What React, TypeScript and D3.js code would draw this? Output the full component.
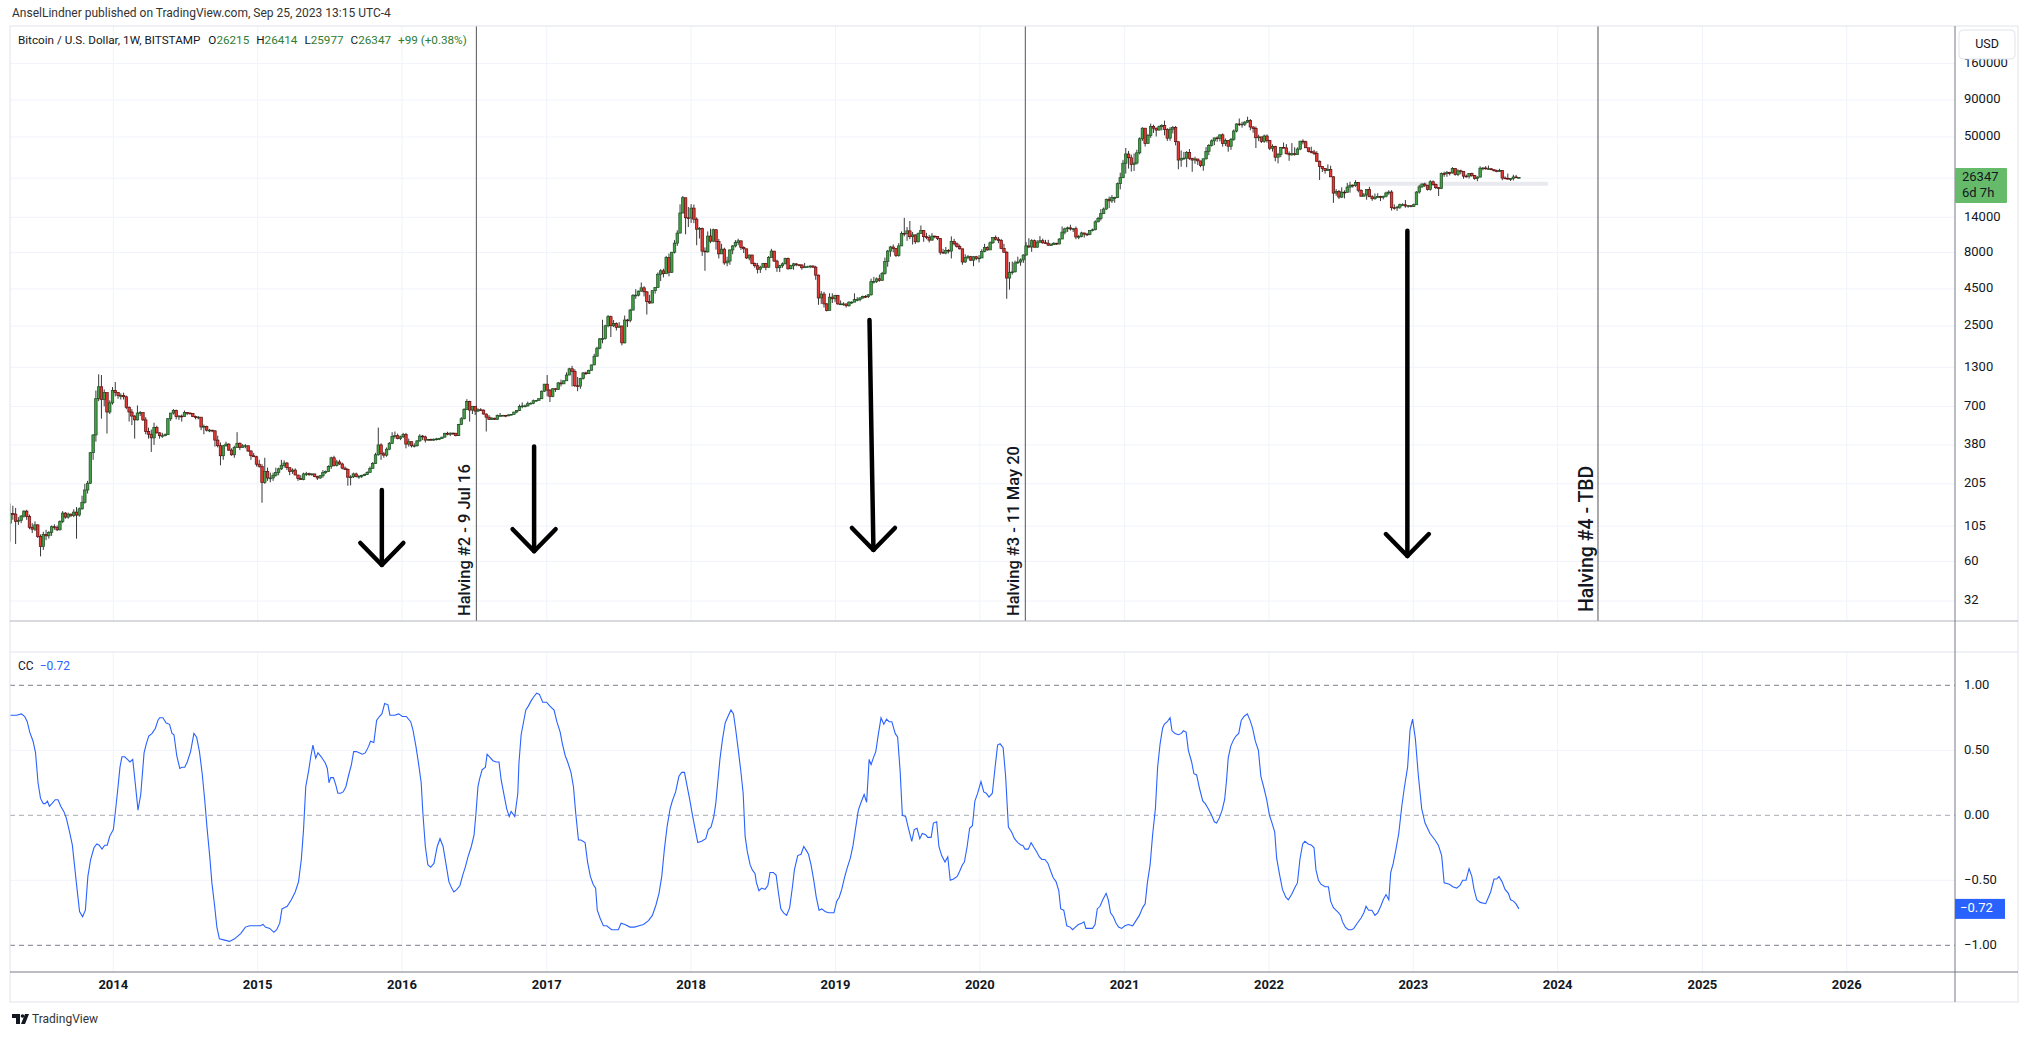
import React from 'react';
import * as d3 from 'd3';

const W = 2029, H = 1038;
const START = Date.UTC(2013, 3, 15);
const WEEK = 7 * 864e5;

// weekly candles [close, high, low]; open = previous close
const FIRST_OPEN = 110;
const w2013 = [[128,150,82],[127,145,116],[113,140,79],[115,121,107],[123,125,110],[133,135,120],[122,136,116],[103,126,100],[100,110,94],[107,113,97],[89,108,87],[76,92,65],[92,96,72],[90,99,84],[95,97,86],[104,106,90],[103,108,99],[99,106,97],[113,115,98],[129,133,110],[121,131,118],[127,130,118],[124,128,121],[131,137,121],[125,142,86],[138,141,122],[153,170,136],[186,205,150],[207,215,176],[336,340,205],[445,450,300],[790,900,400],[955,1163,760],[780,1150,576],[870,915,700],[640,860,455],[740,770,620],[900,950,720]];
const w2014 = [[870,1030,820],[830,880,790],[830,860,780],[815,870,780],[690,830,670],[640,700,550],[600,670,520],[565,610,420],[630,710,560],[635,650,600],[565,630,555],[470,590,450],[450,500,420],[425,485,340],[500,540,380],[460,515,455],[440,465,420],[440,460,425],[447,455,435],[575,580,445],[630,630,555],[655,670,615],[595,665,570],[600,610,565],[595,615,550],[635,655,595],[630,640,610],[625,635,615],[595,630,590],[590,605,570],[590,600,570],[505,590,480],[510,525,450],[480,515,470],[480,490,465],[475,482,465],[410,480,370],[375,440,365],[320,395,275],[375,380,300],[385,400,370],[350,390,345],[325,360,320],[365,375,310],[390,465,365],[365,395,350],[375,385,365],[375,385,360],[345,375,340],[320,350,300],[315,335,315],[280,320,270]];
const w2015 = [[270,300,265],[210,280,152],[250,310,205],[225,265,215],[225,245,210],[235,245,215],[245,265,230],[260,265,235],[275,300,255],[285,297,265],[265,290,255],[250,255,235],[255,262,240],[236,262,235],[223,235,215],[220,235,218],[240,245,217],[241,248,232],[237,245,233],[240,242,233],[230,240,228],[225,233,218],[233,236,222],[245,255,226],[250,253,240],[270,275,249],[310,315,260],[275,320,270],[290,300,270],[281,300,277],[263,287,258],[258,270,255],[228,262,199],[229,235,200],[240,245,225],[230,245,227],[231,236,222],[234,237,225],[238,241,232],[246,250,236],[262,270,245],[283,290,262],[325,335,282],[380,500,320],[330,390,300],[323,340,310],[355,365,315],[390,398,350],[435,465,385],[440,470,420],[420,455,415],[432,440,410]];
const w2016 = [[448,460,425],[385,460,360],[400,420,370],[375,400,365],[375,390,365],[405,410,370],[437,450,400],[432,445,410],[410,440,395],[415,418,405],[410,420,405],[416,420,405],[418,425,408],[420,425,410],[430,432,418],[457,460,428],[450,468,443],[458,463,437],[457,462,445],[440,460,435],[525,530,438],[575,590,520],[665,680,570],[755,785,660],[660,765,550],[700,705,620],[650,700,610],[663,680,640],[660,680,650],[620,665,615],[590,625,470],[570,610,565],[580,590,565],[570,585,565],[605,615,565],[605,630,600],[607,612,600],[602,610,590],[612,615,600],[617,620,605],[640,642,615],[655,660,628],[700,720,650],[705,745,680],[705,720,690],[730,755,700],[735,745,725],[765,780,725],[770,775,755],[790,795,770],[890,900,790],[995,1000,880]];
const w2017 = [[905,1150,820],[820,920,750],[925,935,810],[915,935,880],[1015,1030,910],[1000,1070,960],[1050,1055,1000],[1150,1200,1050],[1270,1290,1150],[1220,1330,960],[970,1260,950],[965,1115,890],[1090,1100,925],[1190,1205,1070],[1175,1215,1150],[1240,1250,1170],[1350,1355,1240],[1550,1610,1345],[1760,1800,1540],[2040,2070,1730],[2050,2760,1900],[2510,2550,2020],[2900,2980,2450],[2510,2950,2100],[2600,2750,2460],[2450,2650,2330],[2500,2660,2450],[1915,2520,1840],[2750,2950,1900],[2735,2800,2460],[3220,3280,2650],[4050,4150,3200],[4080,4480,3850],[4350,4380,4000],[4580,4980,4300],[4300,4700,4000],[3680,4350,3000],[3600,4100,3550],[4380,4400,3650],[4600,4620,4180],[5680,5850,4600],[6000,6150,5100],[5730,6200,5400],[7400,7600,5750],[5860,7890,5500],[8050,8100,5800],[9300,9750,7900],[10900,11400,8900],[15000,17200,10900],[19100,19666,14900],[13900,19000,10700],[13850,16500,12000]];
const w2018 = [[16200,17250,12800],[13600,17150,12750],[11600,14000,9000],[11750,12000,10000],[8200,11900,7600],[8100,8700,6000],[10400,11200,8000],[9600,11700,9300],[11500,11700,9450],[9550,11600,8400],[7850,9950,7300],[8450,9200,7900],[6800,8650,6600],[7000,7500,6450],[8350,8400,6600],[8900,9000,7800],[9400,9750,8700],[9650,9970,9000],[8700,9650,8350],[8500,8850,7950],[7350,8500,7250],[7700,7750,7080],[6750,7750,6650],[6500,6850,6300],[6150,6800,5750],[6350,6500,5800],[6750,6800,6300],[6350,6800,6050],[7400,7580,6300],[8200,8500,7400],[7000,8200,6900],[6300,7150,5900],[6500,6600,5880],[6700,6850,6300],[7300,7380,6650],[6200,7400,6100],[6500,6600,6150],[6700,6800,6100],[6600,6750,6450],[6580,6650,6450],[6300,6650,6100],[6400,6800,6350],[6400,6500,6380],[6470,6550,6250],[6350,6550,6300],[5600,6500,5200],[3900,5650,3500],[4150,4350,3550],[3550,4300,3350],[3200,3600,3150],[3950,4200,3250],[3850,4200,3600]];
const w2019 = [[4050,4100,3650],[3550,4100,3500],[3550,3750,3500],[3550,3650,3450],[3450,3560,3350],[3650,3700,3400],[3650,3700,3550],[3800,4200,3700],[3800,3950,3700],[3900,3950,3700],[4000,4050,3850],[3980,4080,3900],[4100,4150,3900],[5050,5300,4050],[5070,5450,4900],[5280,5400,4950],[5150,5650,5050],[5750,5900,5150],[6950,7400,5650],[8200,8350,6400],[8750,8900,7500],[8550,9100,8050],[7650,8600,7450],[8900,9300,7500],[10850,11200,8900],[10800,13880,10350],[11300,12000,9650],[10300,13200,9900],[10600,11100,9100],[9500,10650,9200],[10800,11000,9400],[11350,12300,10900],[10300,11450,9500],[10150,10950,9900],[9750,10600,9400],[10400,10900,9700],[10350,10450,10050],[10000,10400,9750],[8050,10050,7750],[7950,8500,7850],[8300,8750,7800],[8200,8450,7900],[9550,10350,7300],[9200,9950,8950],[8800,9400,8650],[8500,9100,8400],[6900,8500,6600],[7400,7800,6800],[7500,7700,7200],[7100,7600,7000],[7500,7550,6450],[7300,7600,7100]];
const w2020 = [[7350,7700,6850],[8150,8450,7400],[8700,9200,8050],[8350,8850,8250],[9350,9550,8500],[10150,10150,9200],[9900,10500,9700],[9700,10250,9300],[8550,9950,8450],[8050,9200,8000],[5350,8180,3850],[5850,6900,4450],[5900,6950,5650],[6800,7050,5850],[6900,7500,6700],[7130,7300,6500],[7700,7800,6800],[8900,9450,7650],[8750,10050,8600],[9670,9900,8100],[8720,9850,8700],[9450,9750,8650],[9670,10400,9300],[9350,9990,9200],[9300,9800,9200],[9000,9800,8900],[9070,9300,8900],[9280,9450,9050],[9170,9350,9050],[9930,10050,9150],[11070,12100,9900],[11680,11900,10700],[11850,12100,11100],[11650,12450,11350],[11700,11800,11100],[10250,12100,9900],[10330,10600,9900],[10930,11150,10200],[10730,10950,10150],[10660,10950,10400],[11370,11450,10550],[11500,11700,11200],[13030,13350,11400],[13730,14100,12950],[14830,15950,13300],[15960,16350,14800],[18650,18800,15800],[18170,19450,16200],[19150,19900,17600],[19150,19400,17650],[23860,24300,19000],[26250,28400,21800],[33000,34800,26000]];
const w2021 = [[38200,42000,28000],[36000,40100,30300],[32300,37800,28900],[33100,38500,29200],[38900,40900,32300],[48600,49700,38000],[57500,58400,47000],[45200,57500,43000],[51200,52600,45000],[59000,61800,49300],[57500,60700,53300],[55800,58000,50400],[58900,60000,55500],[60000,61200,55500],[56200,64800,51300],[49100,57500,47000],[56600,58400,47100],[58250,59600,52900],[46400,59600,43800],[34700,46600,30000],[35600,40400,31200],[35800,39500,34800],[39100,40000,31000],[35500,41300,34800],[34700,36000,28800],[35300,36600,32700],[34250,35100,32100],[31800,34000,31000],[35400,35500,29300],[39850,42600,34900],[43800,44700,37500],[47050,48100,43000],[49300,49300,43900],[48900,50500,46400],[51750,51950,46600],[45150,52900,42900],[47250,48800,43400],[43200,47400,39600],[48200,49200,40800],[54950,56300,47100],[61500,62000,53800],[60850,67000,59500],[61300,63700,58000],[63300,64300,59400],[65000,69000,62500],[58600,66400,55600],[57250,59300,53500],[49400,59000,42000],[50100,51900,46800],[46700,49500,45500],[50800,52000,45600],[47300,52100,45700]];
const w2022 = [[41850,47500,40600],[43100,44500,39700],[36300,43500,34000],[37900,38900,32900],[42400,42600,36300],[42100,45800,41800],[38400,44700,37900],[37700,39800,34300],[38400,45400,37200],[37800,42500,37200],[41300,42400,37600],[46800,47000,40500],[46400,48200,44500],[42150,47100,42100],[39700,41500,39200],[39450,42900,38600],[38500,40800,37600],[34050,39900,33700],[31300,34400,25300],[30300,31300,28700],[29450,30500,28000],[29900,32400,29300],[26600,31700,26500],[20550,26900,17600],[21050,21900,19700],[19300,21600,18700],[20850,22500,19000],[20800,21500,18900],[22600,24200,20800],[23300,24600,20700],[23200,23600,22400],[24300,25200,22700],[21500,24400,20800],[19550,21800,19500],[19950,20600,19600],[21800,21800,18500],[19400,22700,19300],[18800,19900,18200],[19300,20400,18500],[19450,20500,19200],[19250,19700,18100],[19550,19700,18600],[20600,21000,19200],[20900,21500,20000],[16300,21500,15600],[16250,17200,15800],[16450,16800,15500],[17100,17400,16000],[17100,17500,16800],[16750,18400,16300],[16840,17000,16300],[16600,16900,16400]];
const w2023 = [[17100,17400,16500],[20900,21200,17100],[22700,23400,20400],[23750,23900,22300],[23300,24250,22600],[21800,23400,21400],[24600,25200,21400],[23550,25100,23100],[22400,23900,21900],[22150,22600,19600],[28000,28500,21900],[27950,28900,26600],[28450,29200,26600],[28300,28800,27200],[30300,31000,28000],[27600,30500,27100],[29250,30000,26900],[28900,29800,27700],[26900,29000,25800],[26850,27600,26300],[28050,28200,25900],[27200,28400,26600],[25850,27300,25400],[26500,26800,24800],[30500,31400,26300],[30600,31000,29500],[30200,31500,29800],[30250,31800,29900],[29800,30400,29500],[29300,29600,28900],[29050,29800,28600],[29400,30200,28800],[26100,29500,25200],[26000,26800,25800],[25850,28000,25400],[25850,26100,24900],[26550,27500,25100],[26215,27400,26100],[26347,26414,25977]];

// CC indicator [weeks since start, value]
const ccA = [[0,.77],[2.3,.77],[4.1,.78],[5.3,.76],[6.2,.72],[7.1,.64],[8.3,.57],[9.2,.48],[10.1,.25],[11,.13],[12,.09],[12.7,.09],[13.5,.11],[14.2,.07],[15.1,.09],[16.3,.12],[17.3,.12],[18.3,.07],[19.4,.03],[20.3,-.02],[21.5,-.13],[22.5,-.23],[23.3,-.39],[24.2,-.57],[25.1,-.74],[26.2,-.78],[27.2,-.73],[28.1,-.47],[29.1,-.34],[30.3,-.25],[31.3,-.22],[32.2,-.23],[33.2,-.26],[34.2,-.23],[35.1,-.23],[36,-.16],[37.3,-.11],[38,.02],[39,.22],[39.7,.37],[40.4,.45],[41.4,.45],[42.4,.43],[43.3,.41],[44.3,.43],[45.2,.25],[46.2,.04],[47.2,.16],[48.4,.48],[49.2,.55],[50.1,.61],[51.3,.63],[52.5,.67],[53.4,.73],[54,.75],[55.2,.75],[56.4,.71],[57.6,.70],[58.5,.63],[59.2,.62],[60.2,.46],[61.3,.36],[62.1,.37],[63.1,.37],[64,.41],[65.2,.49],[66.4,.63],[67.4,.60],[68.4,.49],[69.4,.32],[70.3,.12],[71.2,-.11],[72.1,-.31],[72.9,-.52],[73.9,-.70],[74.7,-.86],[75.6,-.95],[77.5,-.96],[79.3,-.97],[81.1,-.95],[83.3,-.91],[85,-.86],[86.5,-.85],[88.3,-.85],[90.4,-.85],[91.4,-.84],[92.2,-.86],[93.8,-.87],[95.3,-.90],[96.3,-.88],[97.4,-.83],[98.2,-.72],[99.2,-.71],[100.1,-.70],[101.6,-.65],[103,-.59],[104.2,-.51],[105.2,-.34],[106,-.11],[106.8,.22],[107.9,.35],[108.6,.45],[109.4,.54],[110.4,.44],[111.2,.48],[112.4,.45],[113.9,.40],[114.6,.36],[115.2,.25],[115.8,.29],[116.8,.29],[117.7,.23],[118.4,.17],[119.4,.17],[120.3,.18],[121.3,.22],[122.3,.31],[123.3,.39],[124.1,.49],[125.1,.49],[126.3,.48],[127.2,.47],[128.3,.48],[129.5,.53],[130.2,.57],[131.4,.56],[132.4,.73],[133.4,.76],[134.3,.78],[135.3,.86],[136.5,.85],[137.2,.77],[138.9,.77],[140.4,.78],[141.7,.76],[143.1,.76],[144.7,.72],[145.5,.66],[146.6,.53],[147.6,.39],[148.5,.25],[149.1,.02],[150,-.24],[150.9,-.38],[151.9,-.40],[153.1,-.37],[154.3,-.24],[155.3,-.18],[156.4,-.24],[157.5,-.38],[158.5,-.51],[159.5,-.56],[160.3,-.59],[161.4,-.57],[162.5,-.54],[163.5,-.46],[164.4,-.40],[165.4,-.32],[166.6,-.24],[167.6,-.15],[168.3,.02],[169,.22],[169.6,.28],[170.5,.35],[171.7,.37],[172.3,.47],[173.2,.45],[174.4,.42],[175.6,.41],[176.6,.41],[177.4,.27],[178.3,.17],[179.4,.05],[180.3,-.01],[181,.03],[182.3,-.01]];
const ccB = [[183.4,.17],[183.8,.40],[184.6,.62],[185.4,.71],[186.3,.81],[187.2,.84],[188.2,.88],[189.1,.91],[190.2,.94],[191.2,.93],[192.4,.87],[193.8,.87],[195,.84],[196.5,.81],[197.5,.72],[198.7,.64],[199.5,.55],[200.5,.46],[201.4,.41],[202.6,.33],[203.5,.22],[204.3,.02],[205.3,-.19],[206.2,-.19],[207.7,-.21],[208.6,-.36],[209.6,-.47],[210.6,-.53],[211.5,-.56],[212.1,-.73],[213.1,-.79],[214.3,-.85],[215.5,-.85],[217.3,-.88],[218.8,-.88],[219.7,-.88],[220.7,-.83],[222.1,-.84],[223.9,-.86],[225.5,-.86],[227.2,-.85],[228.8,-.84],[230.6,-.81],[232,-.77],[233.3,-.69],[234.4,-.60],[235.4,-.47],[236.3,-.27],[237.3,-.09],[238.4,.05],[239.2,.11],[240.4,.18],[241.6,.30],[242.6,.33],[243.6,.33],[244.5,.23],[245.5,.12],[246.5,0],[247.4,-.10],[248.4,-.21],[249.8,-.20],[251.3,-.18],[252.2,-.11],[253.2,-.09],[254.2,-.01],[254.9,.09],[255.6,.25],[256.4,.43],[257.3,.58],[258.3,.71],[259.5,.77],[260.4,.81],[261.3,.78],[262.1,.66],[263.1,.49],[263.9,.35],[264.8,.17],[265.5,-.16],[266.3,-.28],[267.3,-.38],[268.1,-.42],[269.1,-.45],[269.6,-.52],[270.5,-.58],[271.5,-.56],[272.7,-.57],[273.7,-.54],[274.5,-.44],[275.7,-.44],[276.7,-.46],[277.5,-.59],[278.4,-.72],[279.4,-.75],[280.5,-.77],[281.6,-.71],[282.6,-.55],[283.3,-.42],[284.5,-.31],[285.7,-.30],[286.7,-.24],[287.6,-.27],[288.4,-.30],[289.3,-.38],[290.3,-.50],[291.2,-.63],[292.2,-.73],[293.2,-.72],[294.4,-.74],[295.6,-.75],[297.6,-.75],[298.6,-.66],[299.5,-.63],[300.4,-.57],[301.4,-.48],[302.3,-.41],[303.5,-.33],[304.5,-.23],[305.4,-.10],[306.4,.04],[307.4,.10],[308.5,.16],[309.4,.10],[310.3,.43],[311,.39],[311.8,.44],[312.7,.49],[313.6,.62],[314.6,.75],[315.6,.70],[316.6,.74],[317.5,.72],[318.5,.72],[319.7,.63],[320.6,.60],[321.5,.34],[322.3,0],[323.5,-.01],[324.5,-.10],[325.7,-.20],[326.6,-.11],[327.6,-.10],[328.6,-.18],[329.5,-.14],[330.7,-.15],[331.5,-.17],[332.7,-.17],[333.5,-.06],[334.7,-.05],[335.5,-.24],[336.5,-.31],[337.7,-.36],[338.7,-.32],[339.6,-.50],[340.8,-.49],[342.1,-.47],[343,-.43],[344,-.38],[344.7,-.36],[345.7,-.24],[346.6,-.10],[347.6,-.08],[348.5,.11],[349.5,.17],[350.7,.26],[351.7,.18],[352.6,.17],[353.6,.14],[354.8,.17],[355.8,.37],[356.7,.54],[357.6,.55],[358.7,.52],[359.6,.30],[360.6,-.09],[361.8,-.13],[362.8,-.18],[364,-.21],[365.2,-.23]];
const ccC = [[365.8,-.23],[366.6,-.26],[367.8,-.26],[368.8,-.21],[369.9,-.25],[370.8,-.28],[371.8,-.32],[372.7,-.34],[373.8,-.34],[374.9,-.37],[375.9,-.43],[376.8,-.48],[377.8,-.51],[378.8,-.58],[379.5,-.72],[380.6,-.73],[381.7,-.85],[382.9,-.86],[383.8,-.88],[384.8,-.86],[385.9,-.84],[387.1,-.83],[387.9,-.82],[388.6,-.87],[390.1,-.87],[391,-.87],[391.9,-.84],[392.7,-.72],[393.7,-.70],[394.7,-.65],[395.9,-.60],[396.7,-.65],[397.5,-.75],[398.5,-.78],[399.5,-.83],[400.4,-.86],[401.5,-.87],[402.7,-.85],[403.9,-.84],[405.5,-.85],[406.7,-.81],[407.9,-.77],[409.1,-.71],[410,-.68],[410.8,-.52],[411.8,-.38],[412.7,-.15],[413.7,.05],[414.5,.37],[415.4,.55],[416.3,.67],[416.9,.70],[418,.72],[419,.75],[419.7,.65],[420.8,.63],[422,.62],[423.1,.63],[423.8,.65],[424.8,.64],[425.6,.50],[426.8,.41],[427.6,.32],[428.6,.31],[429.6,.21],[430.8,.11],[431.7,.09],[432.8,.05],[434,0],[435,-.05],[435.8,-.06],[436.8,-.02],[437.8,.04],[438.7,.12],[439.4,.27],[440,.44],[440.9,.53],[441.9,.58],[442.8,.61],[443.8,.63],[444.7,.73],[445.7,.76],[446.9,.78],[447.9,.73],[448.8,.67],[449.8,.57],[450.9,.50],[451.8,.30],[452.9,.21],[453.9,.12],[454.9,0],[455.7,-.05],[456.8,-.13],[457.5,-.33],[458.5,-.45],[459.6,-.57],[460.8,-.63],[461.7,-.65],[462.9,-.61],[464,-.56],[465,-.52],[465.9,-.34],[466.9,-.22],[467.7,-.20],[468.9,-.22],[470.1,-.23],[471,-.25],[471.7,-.42],[472.6,-.50],[473.5,-.53],[475,-.55],[476.2,-.55],[477,-.66],[478,-.71],[478.9,-.73],[479.9,-.75],[480.6,-.77],[481.3,-.82],[482.3,-.86],[483.4,-.88],[484.6,-.88],[485.4,-.87],[486.6,-.83],[488,-.79],[489,-.75],[489.8,-.70],[490.7,-.73],[491.9,-.73],[493,-.77],[494,-.75],[495.1,-.70],[496,-.65],[497,-.61],[498,-.65],[498.7,-.44],[499.6,-.37],[500.6,-.26],[501.6,-.14],[502.7,.07],[503.6,.21],[504.8,.37],[505.7,.66],[506.6,.74],[507.6,.59],[508.7,.30],[509.9,.05],[511.1,-.06],[512.9,-.14],[514.7,-.19],[515.9,-.23],[517.1,-.31],[518,-.52],[519.9,-.53],[521.1,-.55],[522.5,-.56],[523.7,-.54],[524.7,-.50],[525.9,-.50],[527,-.41],[528,-.47],[528.8,-.57],[529.8,-.65],[531,-.67],[533,-.68],[534,-.63],[534.8,-.59],[536,-.49],[537,-.49],[537.8,-.47],[538.9,-.51],[540,-.57],[541.2,-.60],[542,-.65],[543,-.66],[543.9,-.68],[545,-.72]];

const priceTicks = [160000, 90000, 50000, 26000, 14000, 8000, 4500, 2500, 1300, 700, 380, 205, 105, 60, 32];
const yearTicks = [2014, 2015, 2016, 2017, 2018, 2019, 2020, 2021, 2022, 2023, 2024, 2025, 2026];
const ccTicks = [1, 0.5, 0, -0.5, -1];
const ccTickLabels = ['1.00', '0.50', '0.00', '\u22120.50', '\u22121.00'];

const halvingDates = ['2016-07-07', '2020-04-25', '2024-04-12'];
const halvingLabels = ['Halving #2 - 9 Jul 16', 'Halving #3 - 11 May 20', 'Halving #4 - TBD'];

const arrowTopDates = ['2015-11-11', '2016-11-30', '2019-03-28', '2022-12-17'];
const arrowTipDates = ['2015-11-11', '2016-11-30', '2019-04-07', '2022-12-17'];
const arrowTopPrices = [186, 371, 2750, 11300];
const arrowTipPrices = [56.7, 70.5, 71.9, 65.3];

const bandDates = ['2022-08-12', '2023-12-08'];
const bandPrices = [23100, 24600];

const LAST_PRICE = 26347;
const LAST_CC = -0.72;

const FONT = 'Roboto, "Noto Sans", "DejaVu Sans", sans-serif';
const UP_FILL = '#43a047', UP_STROKE = '#1d4a21';
const DN_FILL = '#e53935', DN_STROKE = '#5a0c0c';
const WICK = '#222';

export default function App() {
  const x = d3.scaleUtc()
    .domain([new Date(Date.UTC(2014, 0, 1)), new Date(Date.UTC(2023, 0, 1))])
    .range([113.3, 1413.3]);
  const y = d3.scaleLog().domain([32, 160000]).range([601.06, 63.6]);
  const yc = d3.scaleLinear().domain([-1, 1]).range([945.3, 685.3]);
  const wd = (w: number) => new Date(START + w * WEEK);
  const pd = (s: string) => new Date(s + 'T00:00:00Z');

  const rows = [...w2013, ...w2014, ...w2015, ...w2016, ...w2017, ...w2018, ...w2019, ...w2020, ...w2021, ...w2022, ...w2023];
  const candles = rows.map((r, i) => ({
    d: wd(i), o: i === 0 ? FIRST_OPEN : rows[i - 1][0], c: r[0], h: r[1], l: r[2],
  }));
  const cc = [...ccA, ...ccB, ...ccC];
  const ccLine = d3.line<number[]>().x(d => x(wd(d[0]))).y(d => yc(d[1]));

  const L = 10, R = 2018, TOP = 26, AX = 1955, MB = 621, SEP = 652, CB = 972, BOT = 1002;

  return (
    <svg width={W} height={H} style={{ position: 'absolute', left: 0, top: 0, background: '#fff' }} fontFamily={FONT}>
      <defs>
        <clipPath id="main"><rect x={L} y={TOP} width={AX - L} height={MB - TOP} /></clipPath>
        <clipPath id="ccp"><rect x={L} y={SEP} width={AX - L} height={CB - SEP} /></clipPath>
      </defs>
      <rect width={W} height={H} fill="#fff" />
      <text x={12} y={14} fontSize={12} fill="#333" dominantBaseline="middle">AnselLindner published on TradingView.com, Sep 25, 2023 13:15 UTC-4</text>

      {/* grid */}
      <g stroke="#f0f3fa" strokeWidth={1}>
        {yearTicks.map(t => {
          const xx = x(new Date(Date.UTC(t, 0, 1)));
          return <g key={t}><line x1={xx} x2={xx} y1={TOP} y2={MB} /><line x1={xx} x2={xx} y1={SEP} y2={CB} /></g>;
        })}
        {priceTicks.map(p => <line key={p} x1={L} x2={AX} y1={y(p)} y2={y(p)} />)}
        {[0.5, -0.5].map(v => <line key={v} x1={L} x2={AX} y1={yc(v)} y2={yc(v)} />)}
      </g>

      {/* band */}
      <rect x={x(pd(bandDates[0]))} width={x(pd(bandDates[1])) - x(pd(bandDates[0]))}
        y={y(bandPrices[1])} height={y(bandPrices[0]) - y(bandPrices[1])} fill="#e9eaef" />

      {/* halving lines */}
      {halvingDates.map(d => <line key={d} x1={x(pd(d))} x2={x(pd(d))} y1={TOP} y2={MB} stroke="#555" strokeWidth={1} />)}

      {/* candles */}
      <g clipPath="url(#main)">
        {candles.map((k, i) => {
          const cx = x(k.d);
          const up = k.c >= k.o;
          const y1 = y(Math.max(k.o, k.c)), y2 = y(Math.min(k.o, k.c));
          return (
            <g key={i}>
              <line x1={cx} x2={cx} y1={y(k.h)} y2={y(k.l)} stroke={WICK} strokeWidth={0.9} />
              <rect x={cx - 1.25} width={2.5} y={y1} height={Math.max(y2 - y1, 0.8)}
                fill={up ? UP_FILL : DN_FILL} stroke={up ? UP_STROKE : DN_STROKE} strokeWidth={0.7} />
            </g>
          );
        })}
      </g>

      {/* arrows */}
      <g stroke="#000" strokeWidth={4.5} fill="none" strokeLinecap="round" strokeLinejoin="round">
        {arrowTopDates.map((d, i) => {
          const x1 = x(pd(d)), y1 = y(arrowTopPrices[i]);
          const x2 = x(pd(arrowTipDates[i])), y2 = y(arrowTipPrices[i]);
          return (
            <g key={i}>
              <line x1={x1} y1={y1} x2={x2} y2={y2} />
              <polyline points={`${x2 - 21.5},${y2 - 22} ${x2},${y2} ${x2 + 21.5},${y2 - 22}`} />
            </g>
          );
        })}
      </g>

      {/* halving labels */}
      {halvingDates.map((d, i) => {
        const xx = x(pd(d)) - (i === 2 ? 5 : 6);
        const yy = i === 2 ? 612 : 616;
        return (
          <text key={d} transform={`translate(${xx},${yy}) rotate(-90)`} fontSize={i === 2 ? 19.5 : 16.5}
            fontWeight={500} fill="#131722">{halvingLabels[i]}</text>
        );
      })}

      {/* legend */}
      <text x={18} y={41} fontSize={11.7} fill="#131722" dominantBaseline="middle">
        <tspan>Bitcoin / U.S. Dollar, 1W, BITSTAMP</tspan>
        <tspan dx={8}>O</tspan><tspan fill="#2e7d32">26215</tspan>
        <tspan dx={7}>H</tspan><tspan fill="#2e7d32">26414</tspan>
        <tspan dx={7}>L</tspan><tspan fill="#2e7d32">25977</tspan>
        <tspan dx={7}>C</tspan><tspan fill="#2e7d32">26347</tspan>
        <tspan dx={7} fill="#2e7d32">+99 (+0.38%)</tspan>
      </text>

      {/* CC pane */}
      {[1, 0, -1].map(v => (
        <line key={v} x1={L} x2={AX} y1={yc(v)} y2={yc(v)} stroke={v === 0 ? '#a7a9b0' : '#7c7f88'} strokeWidth={1} strokeDasharray="5,4" />
      ))}
      <g clipPath="url(#ccp)">
        <path d={ccLine(cc) || ''} fill="none" stroke="#2962ff" strokeWidth={1.1} />
      </g>
      <text x={18} y={667} fontSize={12} fill="#131722" dominantBaseline="middle">CC<tspan dx={6} fill="#2962ff">{'\u22120.72'}</tspan></text>

      {/* frame & axes */}
      <rect x={L} y={TOP} width={R - L} height={BOT - TOP} fill="none" stroke="#e0e3eb" strokeWidth={1} />
      <line x1={L} x2={R} y1={MB} y2={MB} stroke="#b2b5be" />
      <line x1={L} x2={R} y1={SEP} y2={SEP} stroke="#e0e3eb" />
      <line x1={L} x2={R} y1={CB} y2={CB} stroke="#787b86" />
      <line x1={AX} x2={AX} y1={TOP} y2={BOT} stroke="#787b86" />

      {/* price labels */}
      {priceTicks.map(p => (
        <text key={p} x={1964} y={y(p)} fontSize={13} fill="#131722" dominantBaseline="middle">{p}</text>
      ))}
      <rect x={1959} y={30} width={56} height={29} rx={4} fill="#fff" stroke="#e0e3eb" />
      <text x={1987} y={44.5} fontSize={12.5} fill="#131722" textAnchor="middle" dominantBaseline="middle">USD</text>
      <rect x={AX} y={y(LAST_PRICE) - 9.5} width={52} height={35} rx={1} fill="#66bb6a" />
      <text x={1962} y={y(LAST_PRICE)} fontSize={13} fill="#131722" dominantBaseline="middle">{LAST_PRICE}</text>
      <text x={1962} y={y(LAST_PRICE) + 16} fontSize={13} fill="#131722" dominantBaseline="middle">6d 7h</text>

      {/* cc labels */}
      {ccTicks.map((v, i) => (
        <text key={v} x={1964} y={yc(v)} fontSize={13} fill="#131722" dominantBaseline="middle">{ccTickLabels[i]}</text>
      ))}
      <rect x={AX} y={yc(LAST_CC) - 10} width={50} height={20} fill="#2962ff" />
      <text x={1960} y={yc(LAST_CC)} fontSize={13} fill="#fff" dominantBaseline="middle">{'\u22120.72'}</text>

      {/* year labels */}
      {yearTicks.map(t => (
        <text key={t} x={x(new Date(Date.UTC(t, 0, 1)))} y={986} fontSize={13} fontWeight={700} fill="#131722"
          textAnchor="middle" dominantBaseline="middle">{t}</text>
      ))}

      {/* TradingView logo */}
      <g fill="#131722">
        <path d="M12 1014 h8 v10 h-4 v-6 h-4 z" />
        <circle cx={22.5} cy={1016} r={1.8} />
        <path d="M25 1014 h4 l-4 10 h-4 z" />
      </g>
      <text x={32} y={1019.5} fontSize={12} fill="#333" dominantBaseline="middle">TradingView</text>
    </svg>
  );
}
